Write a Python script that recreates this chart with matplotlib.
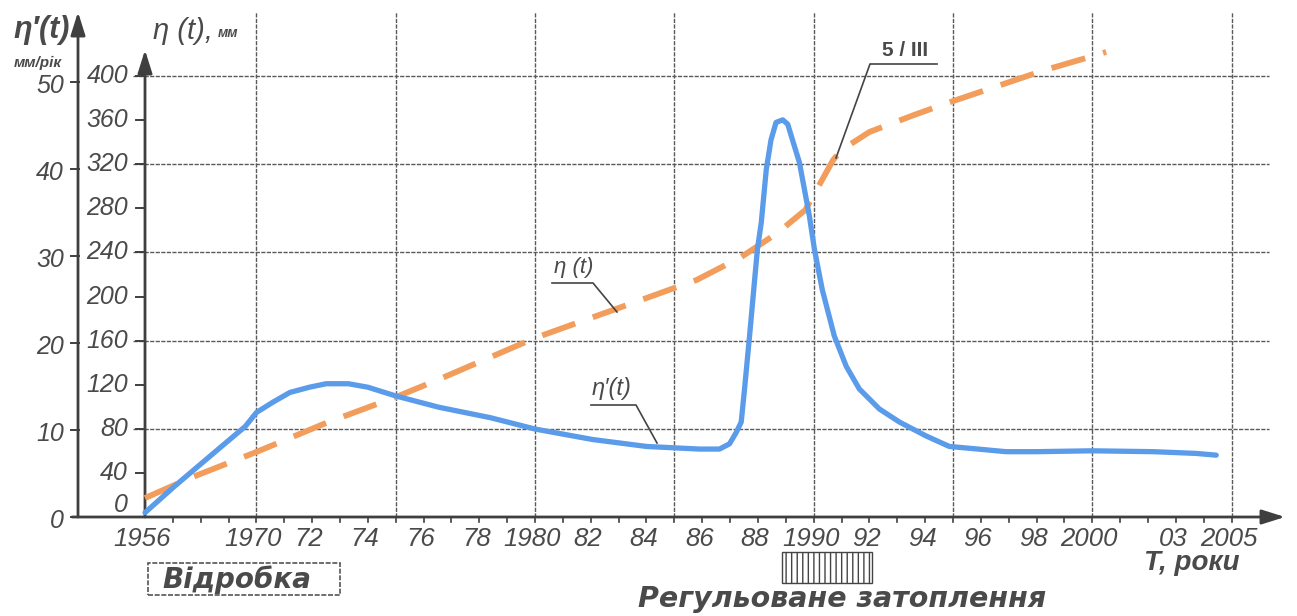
import numpy as np
import matplotlib
matplotlib.use('Agg')
import matplotlib.pyplot as plt
from matplotlib.lines import Line2D
from matplotlib.patches import Rectangle

plt.rcParams['font.family'] = ['Liberation Sans', 'DejaVu Sans']

# швидкість осідання η'(t), мм/рік
rate_years = [1956.0, 1959.8, 1962.9, 1966.0, 1968.6, 1970.0, 1970.6, 1971.2, 1971.9,
              1972.5, 1973.3, 1974.0, 1975.0, 1976.55, 1978.4, 1980.0, 1982.06,
              1984.0, 1985.9, 1986.62, 1986.98, 1987.22, 1987.40, 1987.52, 1987.70,
              1987.98, 1988.12, 1988.30, 1988.47, 1988.65, 1988.89, 1989.07, 1989.24,
              1989.49, 1989.67, 1989.85, 1990.03, 1990.31, 1990.74, 1991.17, 1991.64,
              1992.36, 1993.08, 1994.04, 1994.87, 1995.9, 1996.9, 1998.0, 2000.0,
              2002.2, 2003.73, 2004.45]
rate_vals = [0.5, 3.6, 6.0, 8.4, 10.4, 12.0, 13.2, 14.3, 14.9,
             15.3, 15.3, 14.9, 13.9, 12.6, 11.4, 10.1, 8.9,
             8.1, 7.8, 7.8, 8.4, 9.7, 10.9, 14.7, 20.8,
             30.7, 33.8, 39.9, 43.3, 45.3, 45.6, 45.1, 43.3,
             40.7, 37.6, 34.5, 30.7, 26.1, 20.8, 17.3, 14.7,
             12.4, 10.9, 9.3, 8.1, 7.8, 7.5, 7.5, 7.6,
             7.5, 7.3, 7.1]

# осідання η(t), мм
subs_years = [1956.0, 1962.0, 1970.0, 1972.5, 1975.0, 1976.5, 1980.0, 1984.0, 1985.8,
              1987.4, 1988.7, 1989.7, 1990.7, 1991.0, 1992.0, 1993.6, 1994.8, 1996.5,
              1998.3, 1999.9, 2000.5]
subs_vals = [17.2, 36.3, 59.0, 85.3, 108.8, 124.3, 162.4, 198.6, 215.0,
             235.8, 257.6, 278.5, 323.8, 332.9, 349.2, 364.6, 375.5, 390.0,
             405.4, 417.2, 421.8]

tick_years = [1956, 1970, 1972, 1974, 1976, 1978, 1980, 1982, 1984, 1986, 1988,
              1990, 1992, 1994, 1996, 1998, 2000, 2003, 2005]
tick_labels = ['1956', '1970', '72', '74', '76', '78', '1980', '82', '84', '86', '88',
               '1990', '92', '94', '96', '98', '2000', '03', '2005']
eta_ticks = [0, 40, 80, 120, 160, 200, 240, 280, 320, 360, 400]
rate_ticks = [0, 10, 20, 30, 40, 50]
eta_grid = [80, 160, 240, 320, 400]
year_grid = [1970, 1975, 1980, 1985, 1990, 1995, 2000, 2005]

K = 7.9          # мм на 1 мм/рік
PX = 27.86       # пікселів на рік
PY = 1.1025      # пікселів на мм
W, H = 1297, 616
AX_COL = '#3f3f3f'
TXT = '#4a4a4a'
GRID = '#5a5a5a'


def xpos(year):
    # розрив осі: 1956-1970 стиснуто
    year = np.asarray(year, dtype=float)
    return np.where(year < 1970, 1966 + (year - 1956) * 4 / 14, year)


def fx(x):
    return x / W


def fy(y):
    return 1 - y / H


fig = plt.figure(figsize=(W / 100, H / 100), dpi=100)
fig.patch.set_facecolor('white')
ax = fig.add_axes([145 / W, (H - 517) / H, (1287 - 145) / W, 505 / H])
ax.set_xlim(1966, 1966 + 1142 / PX)
ax.set_ylim(0, 505 / PY)
ax.axis('off')

# сітка
for v in eta_grid:
    ax.plot([1966 - 12 / PX, 2006.36], [v, v], color=GRID, lw=1.0,
            ls=(0, (3, 1)), clip_on=False, zorder=1)
for yr in year_grid:
    ax.plot([yr, yr], [0, 505 / PY], color=GRID, lw=1.0,
            ls=(0, (3, 1)), clip_on=False, zorder=1)

# осі
u_out = 1966 - 67 / PX
arrow = dict(arrowstyle='-|>,head_length=0.7,head_width=0.22', mutation_scale=20,
             color=AX_COL, lw=2.0, shrinkA=0, shrinkB=0)
ax.annotate('', xy=(1966 + 1140 / PX, 0), xytext=(1966 - 73 / PX, 0),
            arrowprops=arrow, annotation_clip=False)
ax.annotate('', xy=(1966, 467 / PY), xytext=(1966, 0),
            arrowprops=arrow, annotation_clip=False)
ax.annotate('', xy=(u_out, 505 / PY), xytext=(u_out, 0),
            arrowprops=arrow, annotation_clip=False)

# поділки
for u in range(1967, 2006):
    ax.plot([u, u], [0, -5 / PY], color=AX_COL, lw=1.2, clip_on=False)
for v in eta_ticks:
    ax.plot([1966 - 9 / PX, 1966], [v, v], color=AX_COL, lw=1.4, clip_on=False)
    off = 11 if v == 0 else 0
    ax.text(1966 - 17 / PX, v + off, str(v), ha='right', va='center',
            fontsize=18, style='italic', color=TXT)
for r in rate_ticks:
    ax.plot([u_out - 7 / PX, u_out + 1 / PX], [r * K, r * K], color=AX_COL, lw=1.4,
            clip_on=False)
    ax.text(u_out - 14 / PX, r * K - 4 / PY, str(r), ha='right', va='center',
            fontsize=18, style='italic', color=TXT)
for yr, lab in zip(tick_years, tick_labels):
    ax.text(float(xpos(yr)) - 3 / PX, -10 / PY, lab, ha='center', va='top',
            fontsize=18.5, style='italic', color=TXT)

# криві
ax.plot(xpos(subs_years), subs_vals, color='#F29D5C', lw=4.2, dashes=(6, 3.2),
        dash_capstyle='butt', clip_on=False, zorder=3)
ax.plot(xpos(rate_years), np.array(rate_vals) * K, color='#5A9BEA', lw=3.8,
        solid_joinstyle='round', solid_capstyle='round', clip_on=False, zorder=4)

# підписи осей
fig.text(fx(42), fy(30), "η′(t)", ha='center', va='center', fontsize=22,
         style='italic', weight='bold', color=TXT)
fig.text(fx(38), fy(63), "мм/рік", ha='center', va='center', fontsize=11,
         style='italic', weight='bold', color=TXT)
fig.text(fx(153), fy(31), "η (t),", ha='left', va='center', fontsize=21,
         style='italic', color=TXT)
fig.text(fx(218), fy(33), "мм", ha='left', va='center', fontsize=10,
         style='italic', weight='bold', color=TXT)
fig.text(fx(1192), fy(563), "T, роки", ha='center', va='center', fontsize=20,
         style='italic', weight='bold', color=TXT)

# виноски
def callout(label, tx, ty, x0, x1, ly, px_, py_, size):
    fig.text(fx(tx), fy(ty), label, ha='center', va='center', fontsize=size,
             style='italic', color=TXT)
    fig.add_artist(Line2D([fx(x0), fx(x1), fx(px_)], [fy(ly), fy(ly), fy(py_)],
                          transform=fig.transFigure, color='#444444', lw=1.2))


callout("η (t)", 574, 268, 552, 593, 283, 617, 312, 16)
callout("η′(t)", 612, 389, 591, 636, 405, 657, 443, 17)
fig.text(fx(905), fy(50), "5 / III", ha='center', va='center', fontsize=15,
         weight='bold', color=TXT)
fig.add_artist(Line2D([fx(937), fx(870), fx(836)], [fy(64), fy(64), fy(158)],
                      transform=fig.transFigure, color='#444444', lw=1.2))

# нижні підписи
fig.add_artist(Rectangle((fx(148), fy(595)), (340 - 148) / W, (595 - 563) / H,
                         transform=fig.transFigure, fill=False, edgecolor='#555555',
                         lw=1.2, ls=(0, (3, 1))))
fig.text(fx(237), fy(580), "Відробка", ha='center', va='center', fontsize=20,
         style='italic', weight='bold', color=TXT, family='DejaVu Sans')
fig.add_artist(Rectangle((fx(782), fy(583)), 90 / W, 31 / H,
                         transform=fig.transFigure, fill=False, edgecolor='#444444',
                         lw=1.0, hatch='|||'))
fig.text(fx(842), fy(599), "Регульоване затоплення", ha='center', va='center',
         fontsize=20.5, style='italic', weight='bold', color=TXT, family='DejaVu Sans')

fig.savefig('out.png', dpi=100, facecolor='white')
